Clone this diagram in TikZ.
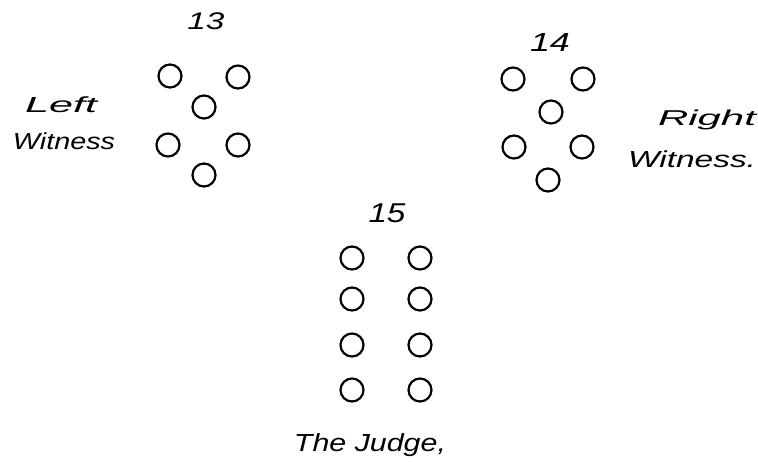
\documentclass[tikz,border=0pt]{standalone}
\usepackage{graphicx}
\usepackage{fontspec}
\setmainfont{Liberation Sans}
\tikzset{
  seat/.style={circle, draw, line width=2.2pt, minimum size=23pt, inner sep=0pt},
  hand/.style={inner sep=0pt, font=\itshape}
}
\newcommand{\hw}[3]{\resizebox*{#1pt}{#2pt}{#3}}
\begin{document}
\begin{tikzpicture}[x=1pt,y=-1pt]
\useasboundingbox (0,0) rectangle (758,461);
% group 13
\node[hand] (n13) at (206,21.5) {\hw{37}{17}{13}};
\node[seat] (a1) at (170,76) {};
\node[seat] (a2) at (238,77) {};
\node[seat] (a3) at (204,107) {};
\node[seat] (a4) at (168,145) {};
\node[seat] (a5) at (238,145) {};
\node[seat] (a6) at (204,175) {};
\node[hand] (lw1) at (61,105) {\hw{72}{16}{Left}};
\node[hand] (lw2) at (64,141) {\hw{102}{17}{Witness}};
% group 14
\node[hand] (n14) at (550,42) {\hw{40}{18}{14}};
\node[seat] (b1) at (513,79) {};
\node[seat] (b2) at (583,79) {};
\node[seat] (b3) at (551,112) {};
\node[seat] (b4) at (514,147) {};
\node[seat] (b5) at (582,147) {};
\node[seat] (b6) at (548,180) {};
\node[hand] (rw1) at (707,120) {\hw{98}{20}{Right}};
\node[hand] (rw2) at (692,159) {\hw{128}{17}{Witness.}};
% group 15
\node[hand] (n15) at (387,213) {\hw{37}{19}{15}};
\node[seat] (c1) at (352,258) {};
\node[seat] (c2) at (420,258) {};
\node[seat] (c3) at (352,299) {};
\node[seat] (c4) at (420,299) {};
\node[seat] (c5) at (352,345) {};
\node[seat] (c6) at (420,345) {};
\node[seat] (c7) at (352,390) {};
\node[seat] (c8) at (420,390) {};
\node[hand] (jd) at (370,445) {\hw{152}{23}{The Judge,}};
\end{tikzpicture}
\end{document}
